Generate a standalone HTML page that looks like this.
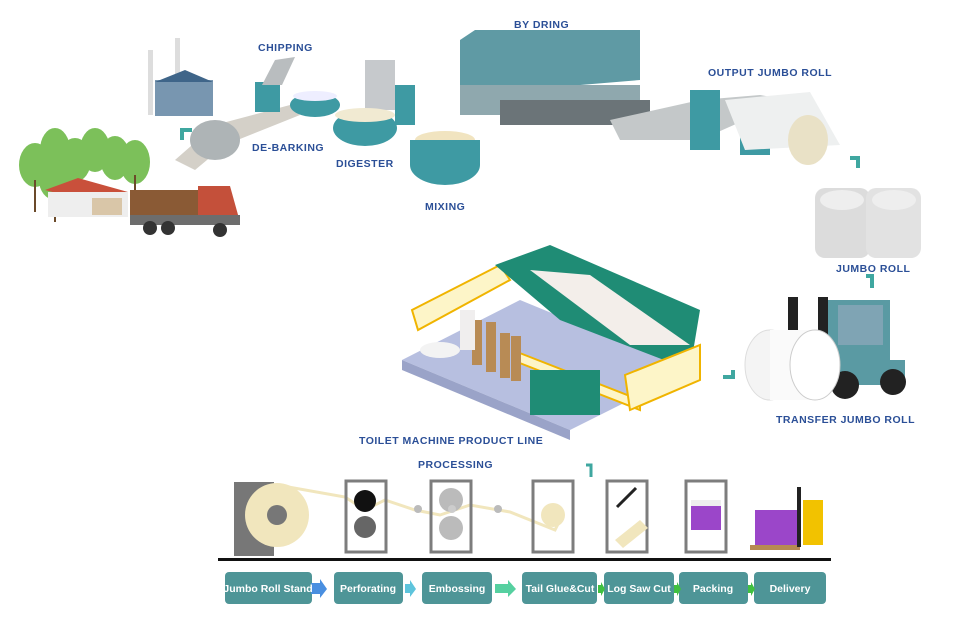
<!DOCTYPE html>
<html><head><meta charset="utf-8"><style>
body{margin:0;background:#fff;}
svg{display:block;font-family:"Liberation Sans",sans-serif;}
.l{fill:#2b4f97;font-weight:bold;font-size:10.5px;letter-spacing:0.5px}
.b{fill:#fff;font-weight:bold;font-size:10.5px}
</style></head><body>
<svg width="960" height="619" viewBox="0 0 960 619" xmlns="http://www.w3.org/2000/svg">
<!-- trees & house -->
<g fill="#7cc05a"><ellipse cx="35" cy="165" rx="16" ry="22"/><ellipse cx="55" cy="150" rx="15" ry="22"/><ellipse cx="75" cy="160" rx="16" ry="22"/><ellipse cx="95" cy="150" rx="15" ry="22"/><ellipse cx="115" cy="158" rx="15" ry="22"/><ellipse cx="135" cy="162" rx="15" ry="22"/><ellipse cx="55" cy="180" rx="16" ry="20"/></g>
<g stroke="#6b4a2a" stroke-width="2"><line x1="35" y1="180" x2="35" y2="212"/><line x1="55" y1="190" x2="55" y2="222"/><line x1="135" y1="175" x2="135" y2="190"/></g>
<polygon points="45,190 78,178 128,192 95,203" fill="#c9503b"/><rect x="48" y="192" width="80" height="25" fill="#eee"/><rect x="92" y="198" width="30" height="17" fill="#d9c6a8"/>
<!-- truck -->
<rect x="130" y="190" width="70" height="25" fill="#8a5a35"/><polygon points="198,186 230,186 240,222 198,222" fill="#c4503a"/><rect x="130" y="215" width="110" height="10" fill="#6d6d6d"/>
<g fill="#333"><circle cx="150" cy="228" r="7"/><circle cx="168" cy="228" r="7"/><circle cx="220" cy="230" r="7"/></g>
<!-- factory -->
<rect x="148" y="50" width="5" height="65" fill="#ddd"/><rect x="175" y="38" width="5" height="77" fill="#ddd"/>
<rect x="155" y="80" width="58" height="36" fill="#7896b0"/><polygon points="155,82 185,70 213,82" fill="#3f6589"/>
<path d="M182 140 v-10 h10" stroke="#3fa7a0" stroke-width="4" fill="none"/>
<!-- debarking drum -->
<polygon points="175,160 215,125 290,105 300,115 225,145 195,170" fill="#d4d0c8"/>
<ellipse cx="215" cy="140" rx="25" ry="20" fill="#aeb4b6"/>
<rect x="255" y="82" width="25" height="30" fill="#3e9aa3"/><polygon points="262,85 275,60 295,57 282,85" fill="#b9bdbf"/>
<ellipse cx="315" cy="105" rx="25" ry="12" fill="#3e9aa3"/><ellipse cx="315" cy="96" rx="22" ry="5" fill="#eef"/>
<!-- digester -->
<rect x="365" y="60" width="30" height="50" fill="#c6c9cc"/>
<ellipse cx="365" cy="128" rx="32" ry="18" fill="#3e9aa3"/><ellipse cx="365" cy="115" rx="30" ry="7" fill="#f1ead2"/>
<rect x="395" y="85" width="20" height="40" fill="#3e9aa3"/>
<!-- mixing -->
<ellipse cx="445" cy="165" rx="35" ry="20" fill="#3e9aa3"/><ellipse cx="445" cy="140" rx="30" ry="9" fill="#f1e4c0"/><rect x="410" y="140" width="70" height="25" fill="#3e9aa3"/>
<rect x="465" y="75" width="18" height="25" fill="#3e9aa3"/>
<!-- by dring -->
<polygon points="460,40 475,30 640,30 640,80 460,95" fill="#5f9aa4"/><rect x="460" y="85" width="180" height="30" fill="#8fa8ae"/>
<rect x="500" y="100" width="150" height="25" fill="#6b7478"/>
<polygon points="610,120 700,100 760,95 790,100 700,140 620,140" fill="#c4c8c9"/>
<rect x="690" y="90" width="30" height="60" fill="#3e9aa3"/><rect x="740" y="100" width="30" height="55" fill="#3e9aa3"/>
<polygon points="725,100 810,92 840,145 745,150" fill="#eef0f0"/><ellipse cx="808" cy="140" rx="20" ry="25" fill="#e9e1c6"/>
<path d="M850 158 h8 v10" stroke="#3fa7a0" stroke-width="4" fill="none"/>
<!-- jumbo rolls -->
<rect x="815" y="188" width="55" height="70" rx="10" fill="#dcdcdc"/><rect x="866" y="188" width="55" height="70" rx="10" fill="#e2e2e2"/>
<ellipse cx="842" cy="200" rx="22" ry="10" fill="#eee"/><ellipse cx="894" cy="200" rx="22" ry="10" fill="#eee"/>
<path d="M866 276 h6 v12" stroke="#3fa7a0" stroke-width="4" fill="none"/>
<!-- forklift -->
<rect x="788" y="297" width="10" height="70" fill="#222"/><rect x="818" y="297" width="10" height="70" fill="#222"/>
<polygon points="828,300 890,300 890,370 828,370" fill="#5a9aa3"/><rect x="838" y="305" width="45" height="40" fill="#7fa4b4"/>
<rect x="820" y="360" width="85" height="25" fill="#5a9aa3"/>
<circle cx="845" cy="385" r="14" fill="#222"/><circle cx="893" cy="382" r="13" fill="#222"/>
<ellipse cx="770" cy="365" rx="25" ry="35" fill="#f4f4f4" stroke="#ddd"/><rect x="770" y="330" width="45" height="70" fill="#fafafa"/><ellipse cx="815" cy="365" rx="25" ry="35" fill="#fff" stroke="#ccc"/>
<path d="M733 370 v7 h-10" stroke="#3fa7a0" stroke-width="4" fill="none"/>
<!-- toilet machine -->
<polygon points="402,360 520,300 690,370 570,430" fill="#b7bfe0"/>
<polygon points="402,360 570,430 570,440 402,370" fill="#9aa3c8"/>
<polygon points="412,310 500,265 510,280 418,330" fill="#fdf5c8" stroke="#f0b400" stroke-width="2"/>
<polygon points="495,265 550,245 700,310 690,370 560,320" fill="#1f8c75"/>
<polygon points="530,270 590,275 690,345 630,345" fill="#f3eeea"/>
<polygon points="512,350 640,400 640,410 512,360" fill="#fdf5c8" stroke="#f0b400" stroke-width="2"/>
<polygon points="625,375 700,345 700,380 630,410" fill="#fdf5c8" stroke="#f0b400" stroke-width="2"/>
<rect x="530" y="370" width="70" height="45" fill="#1f8c75"/>
<g fill="#b88b55"><rect x="472" y="320" width="10" height="45"/><rect x="486" y="322" width="10" height="50"/><rect x="500" y="333" width="10" height="45"/><rect x="511" y="336" width="10" height="45"/></g>
<rect x="460" y="310" width="15" height="40" fill="#f0eeee"/><ellipse cx="440" cy="350" rx="20" ry="8" fill="#f3f3f3"/>
<path d="M586 465 h5 v12" stroke="#3fa7a0" stroke-width="3" fill="none"/>
<!-- processing line -->
<rect x="234" y="482" width="40" height="74" fill="#777"/>
<circle cx="277" cy="515" r="32" fill="#f1e6bd"/><circle cx="277" cy="515" r="10" fill="#777"/>
<polyline points="277,485 345,497 365,510 385,500 415,510 440,515 455,510 470,505 510,512 555,530 560,520" stroke="#f1e6bd" stroke-width="3" fill="none"/>
<g fill="none" stroke="#7d7d7d" stroke-width="3">
<rect x="346" y="481" width="40" height="71"/><rect x="431" y="481" width="40" height="71"/><rect x="533" y="481" width="40" height="71"/><rect x="607" y="481" width="40" height="71"/><rect x="686" y="481" width="40" height="71"/></g>
<circle cx="365" cy="501" r="11" fill="#111"/><circle cx="365" cy="527" r="11" fill="#666"/>
<circle cx="418" cy="509" r="4" fill="#bbb"/><circle cx="451" cy="500" r="12" fill="#bbb"/><circle cx="451" cy="528" r="12" fill="#bbb"/><circle cx="452" cy="509" r="4" fill="#ccc"/>
<circle cx="498" cy="509" r="4" fill="#bbb"/>
<circle cx="553" cy="515" r="12" fill="#f1e6bd"/>
<line x1="617" y1="507" x2="636" y2="488" stroke="#222" stroke-width="3"/>
<polygon points="615,540 640,520 648,528 623,548" fill="#f1e6bd"/>
<rect x="691" y="505" width="30" height="25" fill="#9b46c9"/><rect x="691" y="500" width="30" height="6" fill="#eee"/>
<rect x="755" y="510" width="42" height="35" fill="#9b46c9"/><rect x="750" y="545" width="50" height="5" fill="#b78a52"/>
<rect x="797" y="487" width="4" height="60" fill="#222"/><rect x="803" y="500" width="20" height="45" fill="#f2c200"/>
<rect x="218" y="558" width="613" height="3" fill="#111"/>
<!-- buttons -->
<g fill="#4e9597">
<rect x="225" y="572" width="87" height="32" rx="4"/><rect x="334" y="572" width="69" height="32" rx="4"/><rect x="422" y="572" width="70" height="32" rx="4"/><rect x="522" y="572" width="75" height="32" rx="4"/><rect x="604" y="572" width="70" height="32" rx="4"/><rect x="679" y="572" width="69" height="32" rx="4"/><rect x="754" y="572" width="72" height="32" rx="4"/></g>
<polygon points="311,583 320,583 320,579 327,589 320,598 320,594 311,594" fill="#4a8fe0"/>
<polygon points="405,584 410,584 410,580 416,589 410,597 410,593 405,593" fill="#5ec4dc"/>
<polygon points="495,584 508,584 508,580 516,589 508,597 508,593 495,593" fill="#56d0a0"/>
<polygon points="598,585 601,585 601,582 605,589 601,596 601,593 598,593" fill="#40c040"/>
<polygon points="674,585 677,585 677,582 681,589 677,596 677,593 674,593" fill="#40c040"/>
<polygon points="748,585 751,585 751,582 755,589 751,596 751,593 748,593" fill="#40c040"/>
<text class="b" x="268" y="592" text-anchor="middle">Jumbo Roll Stand</text>
<text class="b" x="368" y="592" text-anchor="middle">Perforating</text>
<text class="b" x="457" y="592" text-anchor="middle">Embossing</text>
<text class="b" x="560" y="592" text-anchor="middle">Tail Glue&amp;Cut</text>
<text class="b" x="639" y="592" text-anchor="middle">Log Saw Cut</text>
<text class="b" x="713" y="592" text-anchor="middle">Packing</text>
<text class="b" x="790" y="592" text-anchor="middle">Delivery</text>
<!-- labels -->
<text class="l" x="258" y="51">CHIPPING</text>
<text class="l" x="252" y="151">DE-BARKING</text>
<text class="l" x="336" y="167">DIGESTER</text>
<text class="l" x="425" y="210">MIXING</text>
<text class="l" x="514" y="28">BY DRING</text>
<text class="l" x="708" y="76">OUTPUT JUMBO ROLL</text>
<text class="l" x="836" y="272">JUMBO ROLL</text>
<text class="l" x="776" y="423">TRANSFER JUMBO ROLL</text>
<text class="l" x="359" y="444">TOILET MACHINE PRODUCT LINE</text>
<text class="l" x="418" y="468">PROCESSING</text>
</svg>
</body></html>
